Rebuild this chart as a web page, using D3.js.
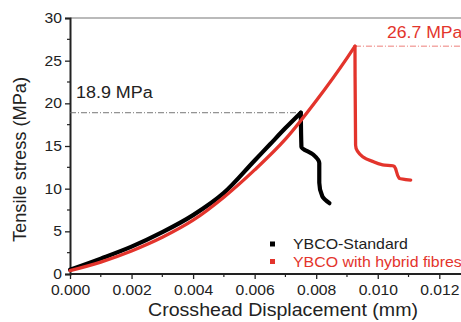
<!DOCTYPE html>
<html>
<head>
<meta charset="utf-8">
<script src="https://cdn.jsdelivr.net/npm/d3@7"></script>
<style>
  body { margin: 0; background: #fff; }
  svg { display: block; font-family: "Liberation Sans", Arial, sans-serif; }
</style>
</head>
<body>
<svg id="chart" width="461" height="322"></svg>
<script>
// data
var standardX = [0, 0.001, 0.002, 0.003, 0.004, 0.005, 0.006, 0.0065, 0.007, 0.0075, 0.00752, 0.0079, 0.0081, 0.0081, 0.0082, 0.00843];
var standardY = [0.5, 1.8, 3.2, 4.9, 6.9, 9.5, 13.3, 15.2, 17.1, 18.9, 14.9, 14.0, 13.0, 10.7, 9.1, 8.3];
var hybridX = [0, 0.001, 0.002, 0.003, 0.004, 0.005, 0.006, 0.007, 0.008, 0.009, 0.00926, 0.00928, 0.00951, 0.00983, 0.01016, 0.01053, 0.0107, 0.01107];
var hybridY = [0.4, 1.4, 2.7, 4.3, 6.3, 9.0, 12.2, 15.8, 20.3, 25.3, 26.7, 15.1, 13.75, 13.2, 12.8, 12.65, 11.2, 11.0];
var seriesNames = ["YBCO-Standard", "YBCO with hybrid fibres"];
var peakLabels = ["18.9 MPa", "26.7 MPa"];
var peakValues = [18.9, 26.7];
var xTicks = [0, 0.002, 0.004, 0.006, 0.008, 0.010, 0.012];
var yTicks = [0, 5, 10, 15, 20, 25, 30];

var red = "#e3342c";
var textCol = "#222";

var svg = d3.select("#chart");
var x = d3.scaleLinear().domain([0, 0.012]).range([70, 439.3]);
var y = d3.scaleLinear().domain([0, 30]).range([274, 18]);

// the original text is a bit wider than Liberation Sans
function stretch(sel, k) {
  sel.each(function() {
    var w = this.getComputedTextLength();
    d3.select(this).attr("textLength", w * k).attr("lengthAdjust", "spacingAndGlyphs");
  });
}

var standard = standardX.map(function(d, i) { return [d, standardY[i]]; });
var hybrid = hybridX.map(function(d, i) { return [d, hybridY[i]]; });

// frame top line
svg.append("line")
    .attr("x1", 70).attr("x2", 470)
    .attr("y1", y(30)).attr("y2", y(30))
    .attr("stroke", "#777").attr("stroke-width", 1.2);

var xMinor = d3.range(0.001, 0.0135, 0.002);
var yMinor = d3.range(2.5, 30, 5);

var xAxis = svg.append("g")
    .attr("transform", "translate(0,274)")
    .call(d3.axisBottom(x).tickValues(xTicks).tickFormat(d3.format(".3f")).tickSizeOuter(0).tickSize(5).tickPadding(6));
xAxis.select(".domain").attr("d", "M70,0H470").attr("stroke", "#222").attr("stroke-width", 1.8);
xAxis.selectAll("line").attr("stroke", "#222").attr("stroke-width", 1.3);
xAxis.selectAll("text").attr("font-size", 14).attr("fill", textCol).call(stretch, 1.12);
xAxis.selectAll(".minor").data(xMinor).enter().append("line")
    .attr("x1", function(d) { return x(d); }).attr("x2", function(d) { return x(d); })
    .attr("y1", 0).attr("y2", 3).attr("stroke", "#222").attr("stroke-width", 1.2);

var yAxis = svg.append("g")
    .attr("transform", "translate(70,0)")
    .call(d3.axisLeft(y).tickValues(yTicks).tickSizeOuter(0).tickSize(5).tickPadding(3));
yAxis.select(".domain").attr("stroke", "#222").attr("stroke-width", 2);
yAxis.selectAll("line").attr("stroke", "#222").attr("stroke-width", 1.3);
yAxis.selectAll("text").attr("font-size", 14).attr("fill", textCol).call(stretch, 1.12);
yAxis.selectAll(".minor").data(yMinor).enter().append("line")
    .attr("x1", 0).attr("x2", -3)
    .attr("y1", function(d) { return y(d); }).attr("y2", function(d) { return y(d); })
    .attr("stroke", "#222").attr("stroke-width", 1.2);

// peak reference lines
svg.append("line")
    .attr("x1", x(0)).attr("x2", x(standardX[9]))
    .attr("y1", y(peakValues[0])).attr("y2", y(peakValues[0]))
    .attr("stroke", "#666").attr("stroke-width", 0.9).attr("stroke-dasharray", "6,2,1,2");
svg.append("line")
    .attr("x1", x(hybridX[10])).attr("x2", 470)
    .attr("y1", y(peakValues[1])).attr("y2", y(peakValues[1]))
    .attr("stroke", red).attr("stroke-width", 0.9).attr("stroke-dasharray", "6,2,1,2").attr("opacity", 0.7);

var rise = d3.line().curve(d3.curveMonotoneX)
    .x(function(d) { return x(d[0]); }).y(function(d) { return y(d[1]); });
var tail = d3.line().curve(d3.curveMonotoneY)
    .x(function(d) { return x(d[0]); }).y(function(d) { return y(d[1]); });

function drawSeries(pts, peak, col, w) {
  [pts.slice(0, peak + 1), pts.slice(peak)].forEach(function(part, i) {
    svg.append("path").datum(part)
        .attr("d", i == 0 ? rise : tail).attr("fill", "none")
        .attr("stroke", col).attr("stroke-width", w)
        .attr("stroke-linejoin", "round").attr("stroke-linecap", "round");
  });
}
drawSeries(standard, 9, "#000", 4.2);
drawSeries(hybrid, 10, red, 3.3);

// peak labels
svg.append("text").attr("x", 76).attr("y", 98)
    .attr("font-size", 16).attr("fill", textCol).text(peakLabels[0]).call(stretch, 1.12);
svg.append("text").attr("x", 387).attr("y", 38)
    .attr("font-size", 16).attr("fill", red).text(peakLabels[1]).call(stretch, 1.1);

// legend
var legend = svg.append("g");
[0, 1].forEach(function(i) {
  var ly = 244 + i * 17.5;
  legend.append("rect")
      .attr("x", 270).attr("y", ly - 2.5).attr("width", 5).attr("height", 5)
      .attr("fill", i == 0 ? "#000" : red);
  legend.append("text")
      .attr("x", 293).attr("y", ly + 5)
      .attr("font-size", 15).attr("fill", i == 0 ? textCol : red)
      .text(seriesNames[i]).call(stretch, 1.06);
});

// axis titles
svg.append("text").attr("x", 148).attr("y", 316)
    .attr("font-size", 17.5).attr("fill", textCol)
    .text("Crosshead Displacement (mm)")
    .attr("textLength", 270).attr("lengthAdjust", "spacingAndGlyphs");
svg.append("text")
    .attr("transform", "translate(26,242) rotate(-90)")
    .attr("font-size", 17.5).attr("fill", textCol)
    .text("Tensile stress (MPa)")
    .attr("textLength", 165).attr("lengthAdjust", "spacingAndGlyphs");
</script>
</body>
</html>
